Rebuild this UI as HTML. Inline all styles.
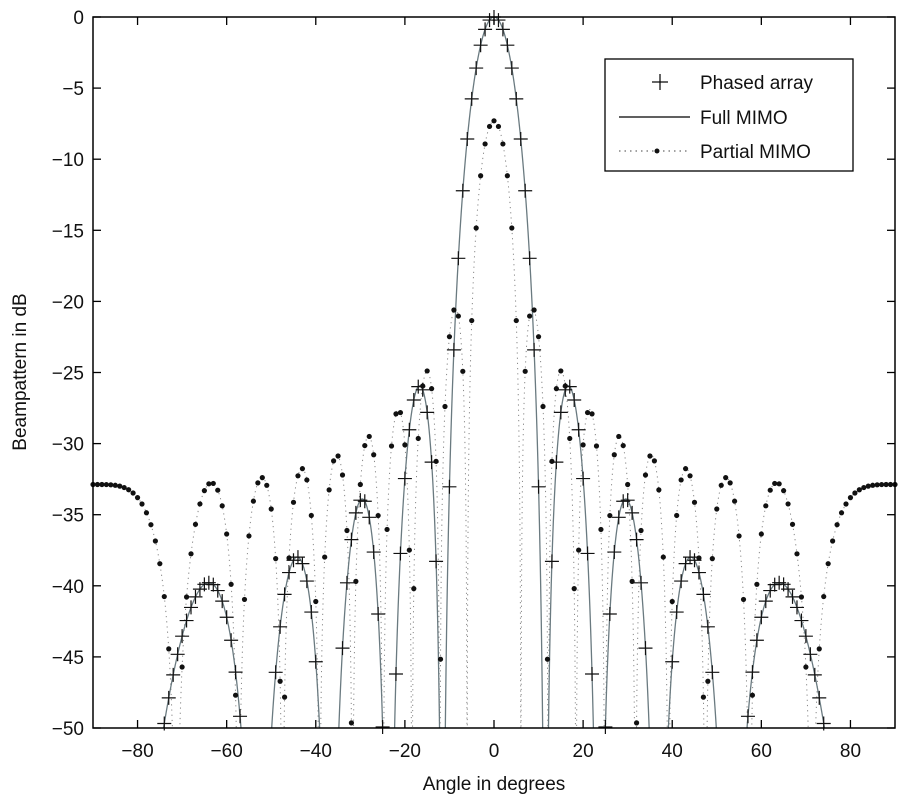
<!DOCTYPE html>
<html><head><meta charset="utf-8"><style>
html,body{margin:0;padding:0;background:#fff;width:900px;height:800px;overflow:hidden;}
svg{display:block;font-family:"Liberation Sans",sans-serif;}
</style></head><body>
<svg id="s" width="900" height="800" xmlns="http://www.w3.org/2000/svg">
<defs><clipPath id="cp"><rect x="93" y="10" width="802" height="718"/></clipPath></defs>
<rect width="900" height="800" fill="#fff"/>
<g id="data"><g id="lines" clip-path="url(#cp)"></g></g>
<rect x="93" y="17" width="802" height="711" fill="none" stroke="#000" stroke-width="1.5"/>
<g id="ticks" stroke="#000" stroke-width="1.3"></g>
<g id="labels" font-size="19" fill="#111"></g>
<text x="494" y="790" font-size="19" text-anchor="middle" fill="#111">Angle in degrees</text>
<text transform="translate(26,372) rotate(-90)" font-size="19" text-anchor="middle" fill="#111">Beampattern in dB</text>
<rect x="605" y="59" width="248" height="112" fill="#fff" stroke="#000" stroke-width="1.3"/>
<line x1="652" y1="82" x2="668" y2="82" stroke="#000" stroke-width="1.2"/>
<line x1="660" y1="74" x2="660" y2="90" stroke="#000" stroke-width="1.2"/>
<line x1="619" y1="117" x2="690" y2="117" stroke="#000" stroke-width="1.2"/>
<line x1="619" y1="151" x2="690" y2="151" stroke="#444" stroke-width="1" stroke-dasharray="1.5,4"/>
<circle cx="657" cy="151" r="2.5" fill="#111"/>
<text x="700" y="89" font-size="19" fill="#111">Phased array</text>
<text x="700" y="124" font-size="19" fill="#111">Full MIMO</text>
<text x="700" y="158" font-size="19" fill="#111">Partial MIMO</text>
</svg>
<script>
var NS="http://www.w3.org/2000/svg";
function X(t){return 494+t*4.4556;}
function Y(d){return 17-d*14.22;}
function full(t){var u=Math.sin(t*Math.PI/180);var den=10*Math.sin(Math.PI*u/2);var a=Math.abs(den)<1e-9?1:Math.sin(10*Math.PI*u/2)/den;return 40*Math.log10(Math.max(Math.abs(a),1e-12));}
function part(t){var u=Math.sin(t*Math.PI/180);var den=19*Math.sin(Math.PI*u/2);var a=Math.abs(den)<1e-9?1:Math.sin(19*Math.PI*u/2)/den;return -7.3+20*Math.log10(Math.max(Math.abs(a),1e-12));}
var g=document.getElementById("data"),lg=document.getElementById("lines");
function el(p,n,at){var e=document.createElementNS(NS,n);for(var k in at)e.setAttribute(k,at[k]);p.appendChild(e);return e;}
function path(f){var d="";for(var t=-90;t<=90.0001;t+=0.05){var v=Math.max(f(t),-51);d+=(d?"L":"M")+X(t).toFixed(2)+","+Y(v).toFixed(2);}return d;}
el(lg,"path",{d:path(part),fill:"none",stroke:"#888","stroke-width":"1","stroke-dasharray":"1.2,4"});
el(lg,"path",{d:path(full),fill:"none",stroke:"#6a7a80","stroke-width":"1.3"});
for(var t=-90;t<=90;t++){var v=part(t);if(v>=-50){el(g,"circle",{cx:X(t),cy:Y(v),r:2.6,fill:"#111"});}}
for(var t=-90;t<=90;t++){var v=full(t);if(v>=-50.2){var x=X(t),y=Y(v);el(g,"path",{d:"M"+(x-7)+","+y+"H"+(x+7)+"M"+x+","+(y-7)+"V"+(y+7),stroke:"#111","stroke-width":"1.2",fill:"none"});}}
var tk=document.getElementById("ticks"),lb=document.getElementById("labels");
function add(p,n,at,txt){var e=document.createElementNS(NS,n);for(var k in at)e.setAttribute(k,at[k]);if(txt!=null)e.textContent=txt;p.appendChild(e);}
for(var a=-80;a<=80;a+=20){var x=X(a);add(tk,"line",{x1:x,y1:728,x2:x,y2:720});add(tk,"line",{x1:x,y1:17,x2:x,y2:25});
add(lb,"text",{x:x,y:757,"text-anchor":"middle"},(a<0?"\u2212"+(-a):""+a));}
for(var d=0;d>=-50;d-=5){var y=Y(d);add(tk,"line",{x1:93,y1:y,x2:101,y2:y});add(tk,"line",{x1:895,y1:y,x2:887,y2:y});
add(lb,"text",{x:84,y:y+7,"text-anchor":"end"},(d<0?"\u2212"+(-d):"0"));}
</script>
</body></html>
